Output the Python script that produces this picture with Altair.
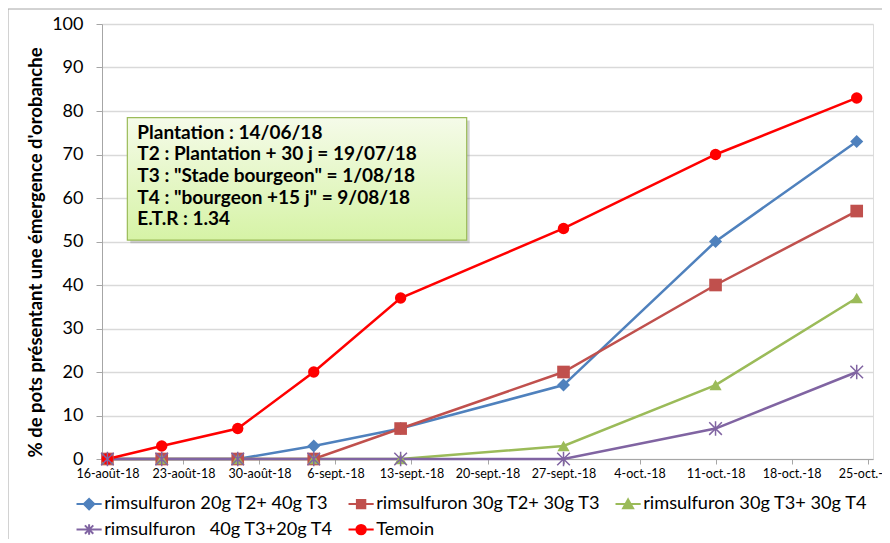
import altair as alt
import pandas as pd

# ---------------- data ----------------
DATES = ["2018-08-16", "2018-08-21", "2018-08-28", "2018-09-04",
         "2018-09-12", "2018-09-27", "2018-10-11", "2018-10-24"]

SERIES = ["rimsulfuron 20g T2+ 40g T3",
          "rimsulfuron 30g T2+ 30g T3",
          "rimsulfuron 30g T3+ 30g T4",
          "rimsulfuron \u00a0 40g T3+20g T4",
          "Temoin"]

S1 = [0, 0, 0, 3, 7, 17, 50, 73]
S2 = [0, 0, 0, 0, 7, 20, 40, 57]
S3 = [0, 0, 0, 0, 0, 3, 17, 37]
S4 = [0, 0, 0, 0, 0, 0, 7, 20]
TEMOIN = [0, 3, 7, 20, 37, 53, 70, 83]

COLORS = ["#4F81BD", "#C0504D", "#9BBB59", "#8064A2", "#FF0000"]

XTICKS = ["2018-08-16", "2018-08-23", "2018-08-30", "2018-09-06", "2018-09-13",
          "2018-09-20", "2018-09-27", "2018-10-04", "2018-10-11", "2018-10-18",
          "2018-10-25"]
YTICKS = [0, 10, 20, 30, 40, 50, 60, 70, 80, 90, 100]

ANNOT_LINES = ["Plantation : 14/06/18",
               "\u00a0T2 : Plantation + 30 j = 19/07/18",
               "\u00a0T3 : \"Stade bourgeon\" = 1/08/18",
               "\u00a0T4 : \"bourgeon +15 j\" = 9/08/18",
               "E.T.R : 1.34"]
# annotation box in data coordinates (date, %)
ANNOT_X = ["2018-08-17T20:00:00Z", "2018-09-18T02:00:00Z"]
ANNOT_Y = [78.5, 50.3]

# ---------------- build table ----------------
rows = []
for name, vals in zip(SERIES, [S1, S2, S3, S4, TEMOIN]):
    for d, v in zip(DATES, vals):
        rows.append({"date": d, "val": v, "serie": name, "serie_l": name})
df = pd.DataFrame(rows)

FONT = "Lato"

ASTER = "M-1,-1L1,1M-1,1L1,-1M0,-1.15L0,1.15"
MARKERS = ["diamond", "square", "triangle-up", ASTER, "circle"]
LEG = [
    "M-2.4,0L2.4,0M0,-1L1,0L0,1L-1,0Z",
    "M-2.4,0L2.4,0M-0.8,-0.8L0.8,-0.8L0.8,0.8L-0.8,0.8Z",
    "M-2.4,0L2.4,0M0,-0.9L0.95,0.8L-0.95,0.8Z",
    "M-2.4,0L2.4,0M-0.8,-0.8L0.8,0.8M-0.8,0.8L0.8,-0.8M0,-1L0,1",
    "M-2.4,0L2.4,0M-0.9,0A0.9,0.9,0,1,0,0.9,0A0.9,0.9,0,1,0,-0.9,0Z",
]


def dt(s, h=0):
    y, m, d = [int(p) for p in s.split("-")]
    return alt.DateTime(year=y, month=m, date=d, hours=h, utc=True)


xscale = alt.Scale(type="utc", domain=[dt("2018-08-15", 12), dt("2018-10-25", 12)])
yscale = alt.Scale(domain=[0, 100], nice=False)

month_names = "['janv.','févr.','mars','avr.','mai','juin','juil.','août','sept.','oct.','nov.','déc.']"
label_expr = ("utcdate(datum.value) + '-' + " + month_names +
              "[utcmonth(datum.value)] + '-' + utcFormat(datum.value, '%y')")

x_enc = alt.X("date:T", scale=xscale,
              axis=alt.Axis(values=[dt(t) for t in XTICKS], labelExpr=label_expr,
                            title=None, grid=False, domainColor="#A6A6A6",
                            tickColor="#A6A6A6", tickSize=5, labelFontSize=12.5,
                            labelColor="#000000", labelFont=FONT, labelPadding=3,
                            labelOverlap=False, labelFlush=False))
y_enc = alt.Y("val:Q", scale=yscale,
              axis=alt.Axis(values=YTICKS, title="% de pots présentant une émergence d'orobanche",
                            titleFont=FONT, titleFontSize=18.5, titleFontWeight="bold",
                            titleColor="#000000", titleX=-67, titleY=228,
                            titleBaseline="middle", titleAngle=270,
                            grid=True, gridColor="#D9D9D9", gridWidth=1.3,
                            domainColor="#A6A6A6", tickColor="#A6A6A6", tickSize=6,
                            labelFontSize=18, labelColor="#000000", labelFont=FONT,
                            labelPadding=13))

color_scale = alt.Scale(domain=SERIES, range=COLORS)

lines = alt.Chart(df).mark_line(strokeWidth=2.5).encode(
    x=x_enc, y=y_enc,
    color=alt.Color("serie:N", scale=color_scale, legend=None),
    order=alt.Order("date:T"),
)

points_main = alt.Chart(df).transform_filter(
    alt.datum.serie != SERIES[3]).mark_point(filled=True, opacity=1, size=150).encode(
    x="date:T", y="val:Q",
    color=alt.Color("serie:N", scale=color_scale, legend=None),
    shape=alt.Shape("serie:N", scale=alt.Scale(domain=SERIES, range=MARKERS), legend=None),
    size=alt.Size("serie:N", scale=alt.Scale(domain=SERIES, range=[170, 130, 180, 160, 200]),
                  legend=None),
)

points_star = alt.Chart(df).transform_filter(
    alt.datum.serie == SERIES[3]).mark_point(filled=False, opacity=1, size=160,
                                             strokeWidth=1.5, shape=ASTER,
                                             color=COLORS[3]).encode(
    x="date:T", y="val:Q",
)

# legend-only layer: no rows drawn, the explicit scale domains drive the legend
legend_layer = alt.Chart(df).transform_filter(alt.datum.val < 0).mark_point(
    filled=True, opacity=1, size=110, strokeWidth=2).encode(
    x="date:T", y="val:Q",
    fill=alt.Fill("serie_l:N", scale=alt.Scale(domain=SERIES, range=COLORS),
                  legend=alt.Legend(orient="none", legendX=-22, legendY=471,
                                    direction="horizontal", columns=3,
                                    gridAlign="none", title=None,
                                    labelFont=FONT, labelFontSize=18.2, labelLimit=0,
                                    labelColor="#000000", symbolSize=110,
                                    symbolStrokeWidth=2, symbolOpacity=1,
                                    columnPadding=10, rowPadding=5.5,
                                    labelOffset=6, symbolOffset=0)),
    stroke=alt.Stroke("serie_l:N", scale=alt.Scale(domain=SERIES, range=COLORS)),
    shape=alt.Shape("serie_l:N", scale=alt.Scale(domain=SERIES, range=LEG)),
)

ann_box = pd.DataFrame({"x": [ANNOT_X[0]], "x2": [ANNOT_X[1]],
                        "y": [ANNOT_Y[0]], "y2": [ANNOT_Y[1]]})
frame = alt.Chart(ann_box).mark_rect(fill=None, stroke="#A6A6A6", strokeWidth=1).encode(
    x=alt.value(-94), x2=alt.value(820), y=alt.value(-15), y2=alt.value(600))
shadow = alt.Chart(ann_box).mark_rect(color="#7F7F7F", opacity=0.35,
                                      xOffset=3, yOffset=3, x2Offset=3, y2Offset=3).encode(
    x="x:T", x2="x2:T", y="y:Q", y2="y2:Q")
box = alt.Chart(ann_box).mark_rect(
    fill=alt.LinearGradient(gradient="linear",
                            stops=[alt.GradientStop(color="#F5FBE9", offset=0),
                                   alt.GradientStop(color="#D6F3A6", offset=1)],
                            x1=0, x2=0, y1=0, y2=1),
    stroke="#9BBB59", strokeWidth=1.2).encode(
    x="x:T", x2="x2:T", y="y:Q", y2="y2:Q")

ann_text = pd.DataFrame({"x": [ANNOT_X[0]], "y": [ANNOT_Y[0]], "t": [ANNOT_LINES]})
text = alt.Chart(ann_text).mark_text(
    align="left", baseline="top", dx=10, dy=6, font=FONT, fontSize=19,
    fontWeight="bold", lineHeight=21.7, color="#000000").encode(
    x="x:T", y="y:Q", text="t")

chart = alt.layer(frame, lines, points_main, points_star, legend_layer, shadow, box, text).resolve_scale(
    color="independent", shape="independent", size="independent",
    fill="independent", stroke="independent"
).properties(
    width=771, height=435,
    autosize=alt.AutoSizeParams(type="none"),
    padding={"left": 94, "top": 16, "right": 9, "bottom": 80},
).configure_view(stroke=None).configure(background="white")

chart.save("out.html", embed_options={"renderer": "svg", "actions": False})
